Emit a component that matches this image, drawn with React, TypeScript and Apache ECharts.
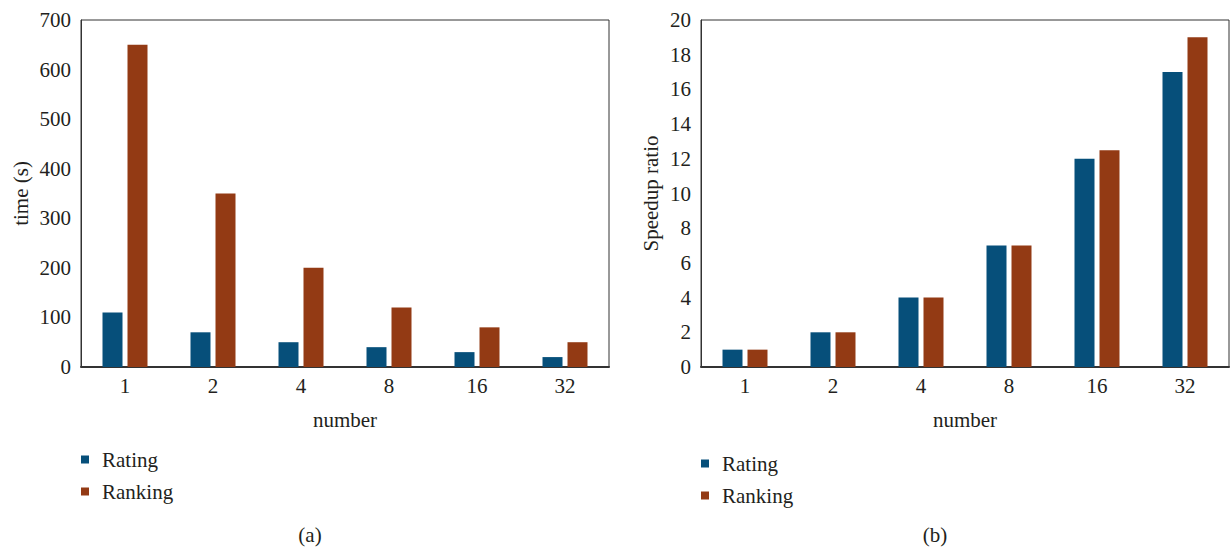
import React, { useEffect, useRef } from "react";
import * as echarts from "echarts";

const categories = ["1", "2", "4", "8", "16", "32"];
const timeRating = [110, 70, 50, 40, 30, 20];
const timeRanking = [650, 350, 200, 120, 80, 50];
const speedRating = [1, 2, 4, 7, 12, 17];
const speedRanking = [1, 2, 4, 7, 12.5, 19];
const seriesNames = ["Rating", "Ranking"];
const panelLabels = ["(a)", "(b)"];

const BLUE = "#064f7a";
const BROWN = "#933a14";
const FONT = "'Liberation Serif', 'DejaVu Serif', serif";
const TXT = "#231f20";
const FS = 21;

export default function App() {
  const ref = useRef<HTMLDivElement>(null);
  useEffect(() => {
    if (!ref.current) return;
    const chart = echarts.init(ref.current, undefined, { renderer: "svg" });
    const textStyle = { fontFamily: FONT, fontSize: FS, color: TXT };
    const xAxisBase = (gridIndex: number) => ({
      type: "category" as const,
      gridIndex,
      data: categories,
      name: "number",
      nameLocation: "middle" as const,
      nameGap: 42,
      nameTextStyle: textStyle,
      axisLine: { show: true, lineStyle: { color: "#333", width: 2 } },
      axisTick: { show: false },
      axisLabel: { ...textStyle, margin: 8 },
    });
    const yAxisBase = (gridIndex: number, max: number, interval: number, name: string, nameGap: number) => ({
      type: "value" as const,
      gridIndex,
      min: 0,
      max,
      interval,
      name,
      nameLocation: "middle" as const,
      nameGap,
      nameTextStyle: textStyle,
      axisLine: { show: true, lineStyle: { color: "#333", width: 1 } },
      axisTick: { show: false },
      splitLine: { show: false },
      axisLabel: { ...textStyle, margin: 10 },
    });
    const bar = (name: string, data: number[], color: string, idx: number) => ({
      type: "bar" as const,
      name,
      data,
      xAxisIndex: idx,
      yAxisIndex: idx,
      barWidth: 20,
      barGap: "25%",
      itemStyle: { color },
    });
    const legendBase = (left: number, top: number) => ({
      orient: "vertical" as const,
      left,
      top,
      padding: 0,
      data: seriesNames,
      icon: "rect",
      itemWidth: 8,
      itemHeight: 8,
      itemGap: 11,
      textStyle: { ...textStyle, padding: [0, 0, 0, 8] },
      selectedMode: false,
    });
    chart.setOption({
      animation: false,
      backgroundColor: "#fff",
      grid: [
        { left: 81, top: 20, width: 528, height: 347, show: true, borderColor: "#333", borderWidth: 1 },
        { left: 701, top: 20, width: 528, height: 347, show: true, borderColor: "#333", borderWidth: 1 },
      ],
      xAxis: [xAxisBase(0), xAxisBase(1)],
      yAxis: [
        yAxisBase(0, 700, 100, "time (s)", 50),
        yAxisBase(1, 20, 2, "Speedup ratio", 40),
      ],
      legend: [legendBase(81, 449), legendBase(701, 453)],
      graphic: [
        { type: "text", x: 310, y: 535, style: { text: panelLabels[0], fill: TXT, font: `${FS}px ${FONT}`, align: "center", verticalAlign: "middle" } },
        { type: "text", x: 935, y: 535, style: { text: panelLabels[1], fill: TXT, font: `${FS}px ${FONT}`, align: "center", verticalAlign: "middle" } },
      ],
      series: [
        bar(seriesNames[0], timeRating, BLUE, 0),
        bar(seriesNames[1], timeRanking, BROWN, 0),
        bar(seriesNames[0], speedRating, BLUE, 1),
        bar(seriesNames[1], speedRanking, BROWN, 1),
      ],
    });
    return () => chart.dispose();
  }, []);
  return (
    <div
      ref={ref}
      style={{ position: "absolute", left: 0, top: 0, width: 1230, height: 550 }}
    />
  );
}
